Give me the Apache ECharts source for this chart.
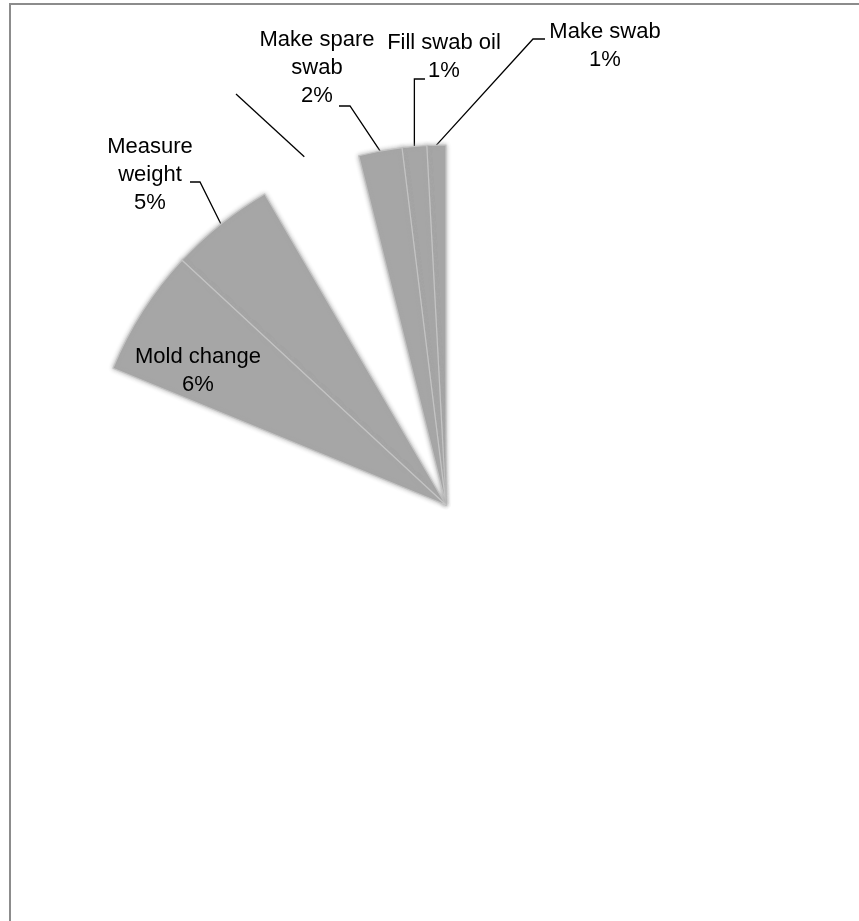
<!DOCTYPE html>
<html>
<head>
<meta charset="utf-8">
<script src="https://cdn.jsdelivr.net/npm/echarts@6/dist/echarts.min.js"></script>
<style>
  html, body { margin: 0; padding: 0; background: #ffffff; }
  #chart { width: 859px; height: 921px; }
</style>
</head>
<body>
<div id="chart"></div>
<script>
// Share of working time per activity (percent). Only the highlighted
// activities are shaded; the other slices are left blank.
const categories = ['Make swab', 'Fill swab oil', 'Make spare\nswab', 'Setup', 'Measure\nweight', 'Mold change', 'Production'];
const shares     = [0.85, 1.1, 1.95, 4.5, 4.7, 5.7, 81.2];
const shaded     = [true, true, true, false, true, true, false];

// Label anchors and leader-line bends (pixels), by slice index.
const labelSpots = {
  0: { x: 605, y: 46, bend: [533, 39], end: [545, 39] },
  1: { x: 444, y: 57, bendY: 79, end: [425, 79] },
  2: { x: 317, y: 68, bend: [350, 106], end: [339, 106] },
  3: { x: 200, y: 80, push: 16, bend: [236, 94], end: [236, 94] },
  4: { x: 150, y: 175, bend: [200, 182], end: [190, 182] },
  5: { x: 198, y: 371 }
};

const CX = 446, CY = 505, R = 360;

const chart = echarts.init(document.getElementById('chart'), null, { renderer: 'canvas' });

const data = categories.map(function (name, i) {
  const item = { name: name, value: shares[i] };
  if (shaded[i]) {
    item.itemStyle = {
      color: '#a6a6a6',
      borderColor: '#c4c4c4',
      borderWidth: 1.2,
      shadowBlur: 4,
      shadowColor: 'rgba(166,166,166,0.85)'
    };
  } else {
    item.itemStyle = { color: 'rgba(255,255,255,0)', borderWidth: 0 };
  }
  if (i === 5) {
    item.label = { position: 'inside' };
    item.labelLine = { show: false };
  } else if (i === 3) {
    item.label = { formatter: ' ' };
  } else if (i === 6) {
    item.label = { show: false };
    item.labelLine = { show: false };
  }
  return item;
});

chart.setOption({
  backgroundColor: '#ffffff',
  animation: false,
  graphic: [{
    type: 'rect',
    silent: true,
    shape: { x: 10, y: 4, width: 900, height: 1000 },
    style: { fill: 'none', stroke: '#8c8c8c', lineWidth: 2 }
  }],
  series: [{
    type: 'pie',
    center: [CX, CY],
    radius: [0, R],
    startAngle: 90,
    clockwise: false,
    percentPrecision: 0,
    avoidLabelOverlap: false,
    data: data,
    label: {
      show: true,
      position: 'outside',
      formatter: '{b}\n{d}%',
      color: '#000000',
      fontFamily: 'Liberation Sans, Arial, sans-serif',
      fontSize: 22,
      lineHeight: 28,
      align: 'center'
    },
    labelLine: {
      show: true,
      lineStyle: { color: '#000000', width: 1.3 }
    },
    emphasis: { disabled: true },
    labelLayout: function (p) {
      const spot = labelSpots[p.dataIndex];
      if (!spot) return {};
      const out = { x: spot.x, y: spot.y, align: 'center', verticalAlign: 'middle' };
      if ((spot.bend || spot.bendY) && p.labelLinePoints) {
        let s = p.labelLinePoints[0].slice();
        if (spot.push) {
          const dx = s[0] - CX, dy = s[1] - CY;
          const d = Math.sqrt(dx * dx + dy * dy);
          s = [s[0] + dx / d * spot.push, s[1] + dy / d * spot.push];
        }
        const bend = spot.bend ? spot.bend : [s[0], spot.bendY];
        out.labelLinePoints = [s, bend, spot.end];
      }
      return out;
    }
  }]
});
</script>
</body>
</html>
